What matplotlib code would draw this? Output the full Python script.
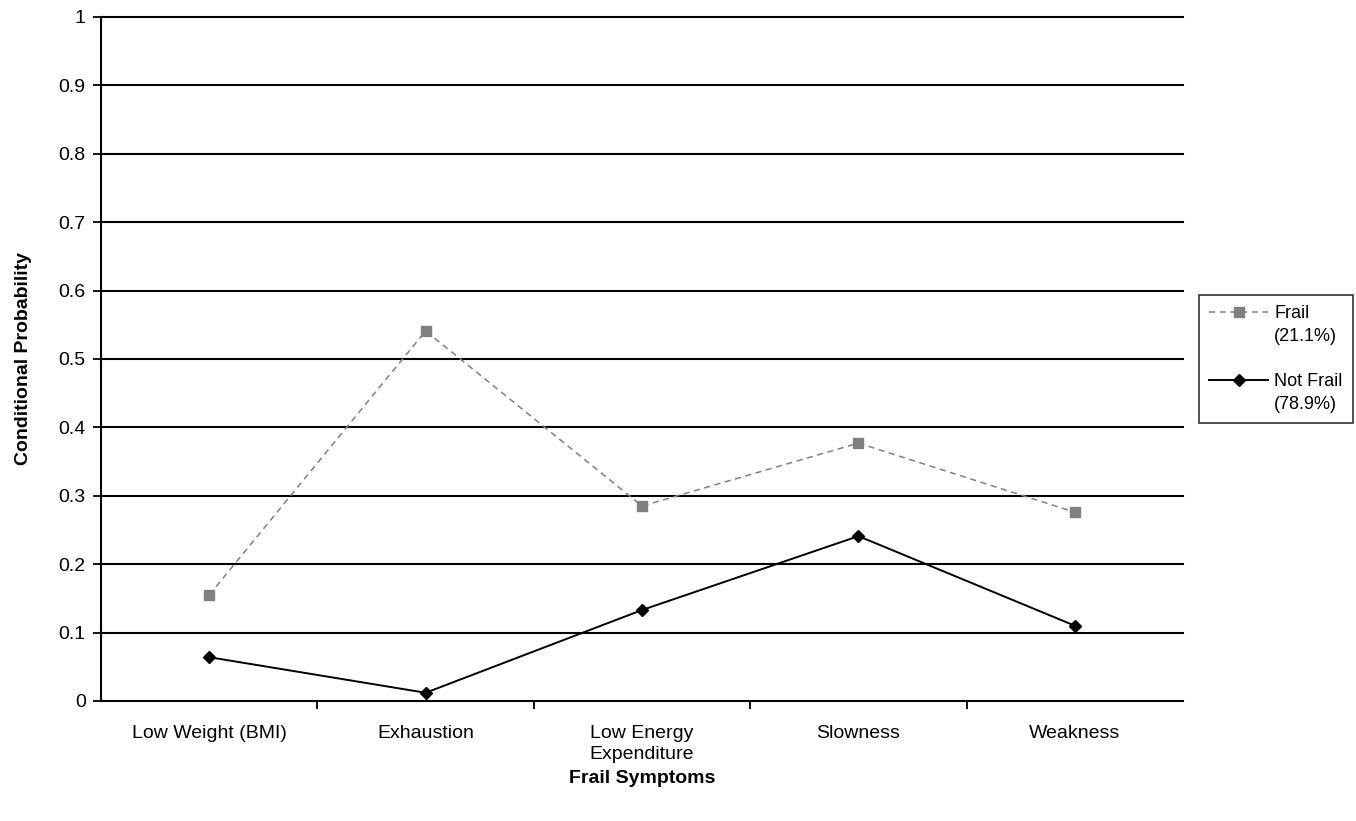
import numpy as np
import matplotlib.pyplot as plt
from matplotlib.lines import Line2D

plt.rcParams['font.family'] = ['Liberation Sans', 'DejaVu Sans']

symptoms = ['Low Weight (BMI)', 'Exhaustion', 'Low Energy\nExpenditure', 'Slowness', 'Weakness']
frail = [0.155, 0.541, 0.285, 0.377, 0.276]
not_frail = [0.064, 0.012, 0.133, 0.241, 0.110]
yticks = [0, 0.1, 0.2, 0.3, 0.4, 0.5, 0.6, 0.7, 0.8, 0.9, 1]
ylabels = ['0', '0.1', '0.2', '0.3', '0.4', '0.5', '0.6', '0.7', '0.8', '0.9', '1']

fs = 14
fig = plt.figure(figsize=(13.56, 8.21), dpi=100)
ax = fig.add_axes([0.0745, 0.1462, 0.798, 0.8331])

x = np.arange(len(symptoms))
l1, = ax.plot(x, frail, color='#808080', linestyle=(0, (4, 3)), linewidth=1.1,
              marker='s', markersize=7, markerfacecolor='#808080', markeredgecolor='#808080',
              zorder=3)
l2, = ax.plot(x, not_frail, color='black', linestyle='-', linewidth=1.4,
              marker='D', markersize=6, markerfacecolor='black', markeredgecolor='black',
              zorder=3)

ax.set_xlim(-0.5, len(symptoms) - 0.5)
ax.set_ylim(0, 1)
ax.set_yticks(yticks)
ax.set_yticklabels(ylabels, fontsize=fs)
for y in yticks[1:]:
    ax.axhline(y, color='black', linewidth=1.5, zorder=1, clip_on=False)

ax.set_xticks(np.arange(0.5, len(symptoms) - 0.5, 1))
ax.set_xticklabels([])
ax.set_xticks(x, minor=True)
ax.set_xticklabels(symptoms, minor=True, fontsize=fs, linespacing=1.35)
ax.tick_params(axis='x', which='minor', length=0, pad=17)
ax.tick_params(axis='x', which='major', length=6, width=1.3, direction='out')
ax.tick_params(axis='y', length=6, width=1.3, direction='out', pad=5)

ax.spines['top'].set_visible(False)
ax.spines['right'].set_visible(False)
ax.spines['left'].set_linewidth(1.5)
ax.spines['bottom'].set_linewidth(1.5)

ax.set_ylabel('Conditional Probability', fontsize=fs, fontweight='bold', labelpad=19)
ax.set_xlabel('Frail Symptoms', fontsize=fs, fontweight='bold', labelpad=5)

# legend: handle sits on the first line of each two-line label
blank = Line2D([], [], color='none')
handles = [l1, blank, blank, l2, blank]
labels = ['Frail', '(21.1%)', ' ', 'Not Frail', '(78.9%)']
leg = ax.legend(handles, labels, loc='center left', bbox_to_anchor=(1.0145, 0.5),
                fontsize=13, frameon=True, fancybox=False, edgecolor='black',
                handlelength=3.3, handletextpad=0.33, labelspacing=0.31,
                borderpad=0.55, borderaxespad=0)
leg.get_frame().set_linewidth(1.2)

fig.savefig('out.png', dpi=100)
